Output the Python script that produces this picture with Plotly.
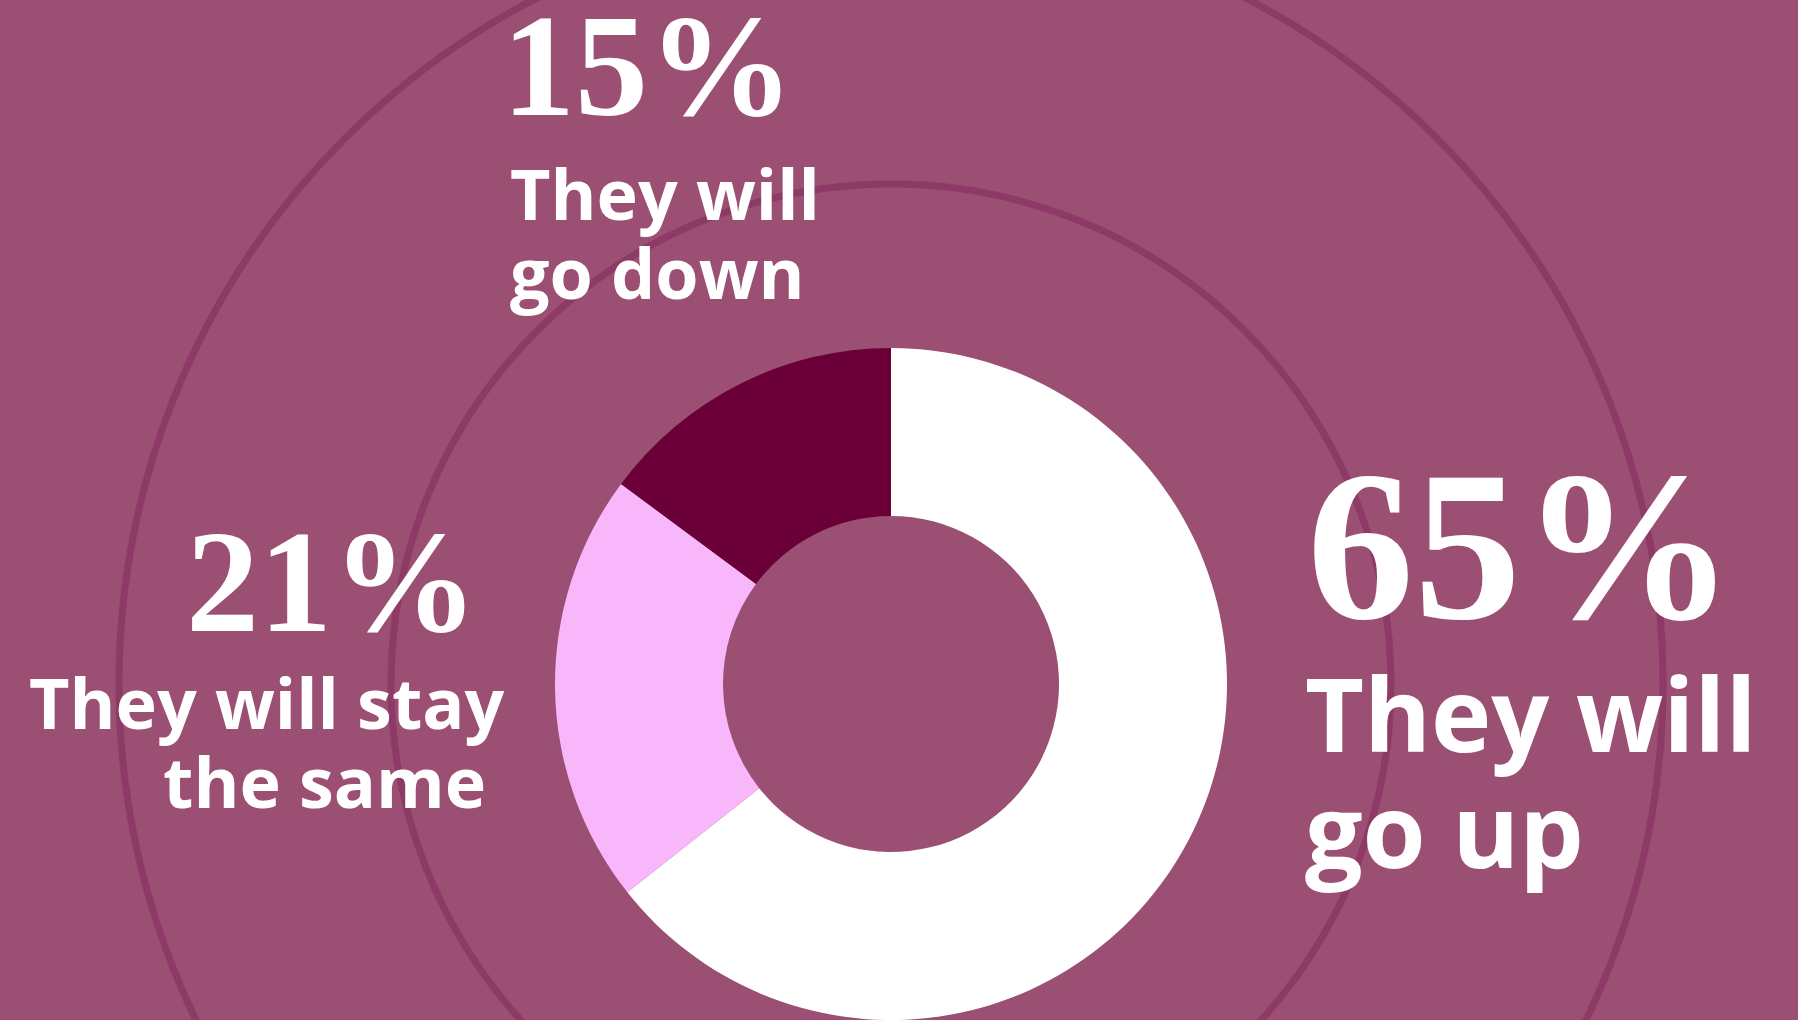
import plotly.graph_objects as go

# Survey answers, in clockwise order from 12 o'clock
categories = ["They will go up", "They will stay the same", "They will go down"]
values = [65, 21, 15]
label_lines = [["They will", "go up"], ["They will stay", "the same&nbsp;"], ["They will", "go down"]]

W, H = 1798, 1020
BG = "#9b4f73"
RING = "#8d3a66"
slice_colors = ["#ffffff", "#f8b6fb", "#6a0037"]

# Donut geometry in pixels
cx, cy, r = 891, 684, 336


def px(x):
    return x / W


def py(y):
    return 1 - y / H


fig = go.Figure(
    go.Pie(
        labels=categories,
        values=values,
        hole=0.5,
        sort=False,
        direction="clockwise",
        rotation=0,
        textinfo="none",
        hoverinfo="label+percent",
        marker=dict(colors=slice_colors, line=dict(width=0)),
        domain=dict(x=[px(cx - r), px(cx + r)], y=[py(cy + r), py(cy - r)]),
        showlegend=False,
    )
)

# Decorative concentric rings behind the donut
shapes = []
for rr in (500, 772):
    shapes.append(
        dict(
            type="circle",
            xref="paper",
            yref="paper",
            x0=px(cx - rr),
            x1=px(cx + rr),
            y0=py(cy + rr),
            y1=py(cy - rr),
            line=dict(color=RING, width=7),
            fillcolor="rgba(0,0,0,0)",
            layer="below",
        )
    )

serif = "Liberation Serif"
sans = "Open Sans"

# Placement per category: percent figure, then the two-line caption.
# Caption line pitch comes from the base font size (1.3 x size),
# while the glyphs themselves are drawn at `lsize`.
layout_spec = [
    dict(p_x=1305, p_y=545, anchor="left", pct_size=214,
         l_x=1303, l_y=770, lsize=102, pitch=116),
    dict(p_x=480, p_y=582, anchor="right", pct_size=146,
         l_x=507, l_y=741, lsize=70, pitch=79),
    dict(p_x=500, p_y=66, anchor="left", pct_size=146,
         l_x=508, l_y=233, lsize=70, pitch=79),
]

annotations = []
for val, lines, spec in zip(values, label_lines, layout_spec):
    annotations.append(
        dict(
            text=f"<b>{val}%</b>",
            xref="paper", yref="paper",
            x=px(spec["p_x"]), y=py(spec["p_y"]),
            xanchor=spec["anchor"], yanchor="middle",
            showarrow=False,
            font=dict(family=serif, size=spec["pct_size"], color="white"),
        )
    )
    caption = "<br>".join(
        f'<span style="font-size:{spec["lsize"]}px">{line}</span>' for line in lines
    )
    annotations.append(
        dict(
            text=caption,
            xref="paper", yref="paper",
            x=px(spec["l_x"]), y=py(spec["l_y"]),
            xanchor=spec["anchor"], yanchor="middle",
            align=spec["anchor"],
            showarrow=False,
            font=dict(family=sans, size=spec["pitch"] / 1.3, color="white", weight=700),
        )
    )

fig.update_layout(
    width=W,
    height=H,
    margin=dict(l=0, r=0, t=0, b=0),
    paper_bgcolor=BG,
    plot_bgcolor=BG,
    shapes=shapes,
    annotations=annotations,
)

fig.write_html("out.html", config={"displayModeBar": False})
